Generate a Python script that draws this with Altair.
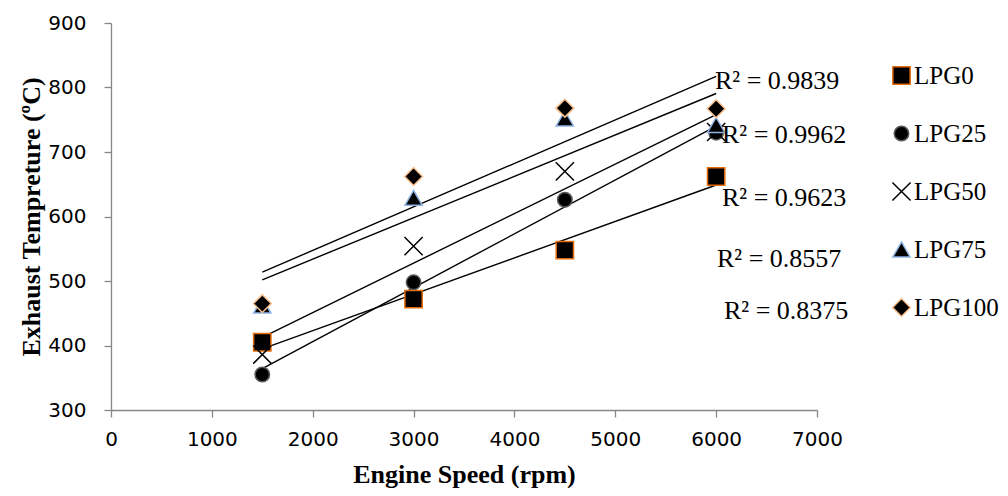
import altair as alt
import pandas as pd

# ---- data ----
rpm = [1500, 3000, 4500, 6000]
series_names = ["LPG0", "LPG25", "LPG50", "LPG75", "LPG100"]
lpg0 = [405, 472, 548, 662]
lpg25 = [355, 498, 626, 730]
lpg50 = [386, 554, 670, 731]
lpg75 = [462, 629, 752, 742]
lpg100 = [465, 662, 768, 767]
r2_labels = ["R² = 0.9839", "R² = 0.9962", "R² = 0.9623", "R² = 0.8557", "R² = 0.8375"]
x_ticks = [0, 1000, 2000, 3000, 4000, 5000, 6000, 7000]
y_ticks = [300, 400, 500, 600, 700, 800, 900]

values = [lpg0, lpg25, lpg50, lpg75, lpg100]
rows = []
for name, vals in zip(series_names, values):
    for s, t in zip(rpm, vals):
        rows.append({"series": name, "rpm": s, "temp": t})
df = pd.DataFrame(rows)

# ---- styling ----
SERIF = "Liberation Serif"
SANS = "DejaVu Sans"
AXIS_GRAY = "#868686"

shapes = ["square", "circle", "M-1,-1L1,1M-1,1L1,-1", "triangle-up", "diamond"]
strokes = ["#E46C0A", "#595959", "#000000", "#8EB4E3", "#FAC08F"]
fills = ["#000000"] * 5
sizes = [300, 210, 330, 300, 320]

x_scale = alt.Scale(domain=[0, 7000], nice=False, zero=False)
y_scale = alt.Scale(domain=[300, 900], nice=False, zero=False)

x_axis = alt.Axis(
    title="Engine Speed (rpm)", values=x_ticks, format="d", grid=False,
    domainColor=AXIS_GRAY, tickColor=AXIS_GRAY, tickSize=7, domainWidth=1.3, tickWidth=1.3,
    labelFont=SANS, labelFontSize=20, labelColor="#000000", labelPadding=12,
    titleFont=SERIF, titleFontSize=26, titleFontWeight="bold", titleColor="#000000",
    titleY=72, titleBaseline="alphabetic", labelFlush=False,
)
y_axis = alt.Axis(
    title="Exhaust Tempreture (ºC)", values=y_ticks, format="d", grid=False,
    domainColor=AXIS_GRAY, tickColor=AXIS_GRAY, tickSize=7, domainWidth=1.3, tickWidth=1.3,
    labelFont=SANS, labelFontSize=20, labelColor="#000000", labelPadding=18,
    titleFont=SERIF, titleFontSize=26, titleFontWeight="bold", titleColor="#000000",
    titleX=-72, titleBaseline="alphabetic", labelFlush=False,
)

base = alt.Chart(df)

lines = base.transform_regression(
    "rpm", "temp", groupby=["series"], extent=[1500, 6000]
).mark_line(color="black", strokeWidth=1.4).encode(
    x=alt.X("rpm:Q", scale=x_scale, axis=x_axis),
    y=alt.Y("temp:Q", scale=y_scale, axis=y_axis),
    detail="series:N",
)

points = base.mark_point(opacity=1, fillOpacity=1, strokeWidth=1.5).encode(
    x=alt.X("rpm:Q", scale=x_scale, axis=x_axis),
    y=alt.Y("temp:Q", scale=y_scale, axis=y_axis),
    shape=alt.Shape("series:N", scale=alt.Scale(domain=series_names, range=shapes), title=None),
    fill=alt.Fill("series:N", scale=alt.Scale(domain=series_names, range=fills), title=None),
    stroke=alt.Stroke("series:N", scale=alt.Scale(domain=series_names, range=strokes), title=None),
    size=alt.Size("series:N", scale=alt.Scale(type="ordinal", domain=series_names, range=sizes), title=None),
)

# R² annotations (positions are layout, relative to the plot area)
label_pos = [(604, 66), (611, 120), (611, 183), (606, 244), (613, 296)]
labels = []
for txt, (px, py) in zip(r2_labels, label_pos):
    labels.append(
        alt.Chart(pd.DataFrame({"t": [txt]})).mark_text(
            font=SERIF, fontSize=26, color="#000000", align="left", baseline="alphabetic"
        ).encode(text="t:N", x=alt.value(px), y=alt.value(py))
    )

chart = alt.layer(lines, points, *labels).properties(
    width=706, height=387,
    autosize=alt.AutoSizeParams(type="none"),
    padding={"left": 103, "top": 15, "right": 183, "bottom": 78},
).configure_view(stroke=None).configure_legend(
    orient="none", legendX=778, legendY=40, padding=0,
    labelFont=SERIF, labelFontSize=25, labelColor="#000000", labelOffset=0,
    rowPadding=32, symbolStrokeWidth=1.5,
)

chart.save("out.html", embed_options={"renderer": "svg", "actions": False})
